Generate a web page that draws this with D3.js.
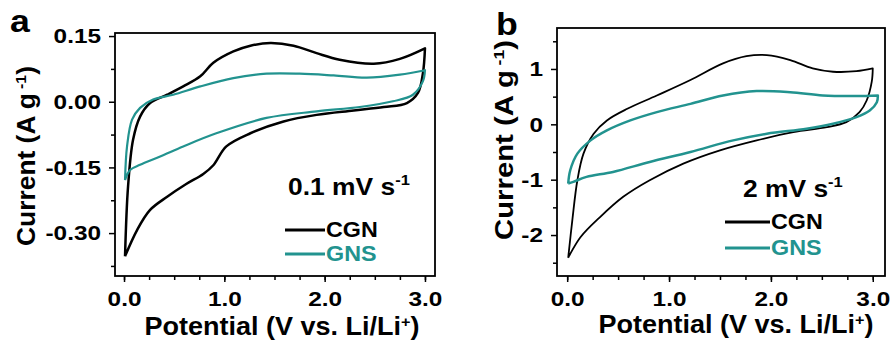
<!DOCTYPE html>
<html>
<head>
<meta charset="utf-8">
<script src="https://cdn.jsdelivr.net/npm/d3@7"></script>
<style>
  body { margin: 0; background: #fff; }
  svg text { font-family: "Liberation Sans", Arial, sans-serif; font-weight: bold; }
</style>
</head>
<body>
<svg id="chart" width="896" height="345"></svg>
<script>
// series: [potential V, current A/g]
// panel a, 0.1 mV/s — anodic branch (up) then cathodic branch (down)
const cgnSlowUp = [[0.01,-0.353],[0.04,-0.194],[0.09,-0.087],[0.16,-0.034],[0.26,-0.003],[0.43,0.016],[0.59,0.035],[0.76,0.058],[0.89,0.089],[1.09,0.115],[1.26,0.128],[1.46,0.134],[1.69,0.128],[1.92,0.111],[2.15,0.096],[2.49,0.087],[2.75,0.098],[3.0,0.122]];
const cgnSlowDown = [[3.0,0.122],[2.98,0.066],[2.93,0.020],[2.82,-0.003],[2.59,-0.012],[2.29,-0.020],[1.92,-0.030],[1.59,-0.045],[1.26,-0.072],[1.02,-0.102],[0.89,-0.145],[0.79,-0.165],[0.62,-0.188],[0.43,-0.217],[0.26,-0.247],[0.13,-0.293],[0.01,-0.353]];
const gnsSlowUp = [[0.01,-0.179],[0.03,-0.102],[0.08,-0.041],[0.16,-0.014],[0.29,0.005],[0.49,0.016],[0.76,0.035],[1.09,0.054],[1.42,0.064],[1.75,0.064],[2.09,0.060],[2.42,0.055],[2.75,0.062],[3.0,0.072]];
const gnsSlowDown = [[3.0,0.072],[2.98,0.047],[2.88,0.016],[2.68,0.001],[2.35,-0.012],[1.92,-0.022],[1.42,-0.037],[0.92,-0.072],[0.59,-0.102],[0.36,-0.125],[0.16,-0.144],[0.06,-0.156],[0.01,-0.179]];

// panel b, 2 mV/s
const cgnFastUp = [[0.01,-2.41],[0.05,-1.74],[0.10,-1.01],[0.16,-0.53],[0.26,-0.17],[0.39,0.07],[0.59,0.28],[0.88,0.52],[1.21,0.80],[1.53,1.10],[1.76,1.23],[1.96,1.25],[2.19,1.16],[2.41,1.01],[2.61,0.95],[2.84,0.96],[3.0,1.01]];
const cgnFastDown = [[3.0,1.01],[2.99,0.77],[2.94,0.43],[2.87,0.22],[2.74,0.04],[2.55,-0.05],[2.22,-0.14],[1.86,-0.29],[1.50,-0.47],[1.14,-0.71],[0.81,-1.01],[0.55,-1.31],[0.32,-1.68],[0.13,-2.04],[0.01,-2.41]];
const gnsFastUp = [[0.01,-1.07],[0.03,-0.83],[0.10,-0.53],[0.23,-0.29],[0.39,-0.11],[0.62,0.07],[0.88,0.22],[1.21,0.37],[1.53,0.52],[1.86,0.60],[2.19,0.58],[2.51,0.52],[2.84,0.51],[3.05,0.52]];
const gnsFastDown = [[3.05,0.52],[3.04,0.40],[2.97,0.25],[2.84,0.13],[2.61,0.01],[2.35,-0.08],[1.96,-0.17],[1.63,-0.29],[1.21,-0.50],[0.81,-0.68],[0.45,-0.86],[0.19,-0.95],[0.06,-1.04],[0.01,-1.07]];

// ticks and labels
const xTicks = [0, 1, 2, 3];
const xMinor = d3.range(0, 3.01, 0.25);
const yTicksA = [-0.30, -0.15, 0, 0.15];
const yMinorA = [-0.375, -0.225, -0.075, 0.075];
const yTicksB = [-2, -1, 0, 1];
const yMinorB = [-2.5, -1.5, -0.5, 0.5, 1.5];
const seriesNames = ["CGN", "GNS"];
const seriesColors = ["#000000", "#22938f"];

const svg = d3.select("#chart");

// the original lettering is a bit wider than Arial, so widen each text
function widen(sel, k) {
  sel.each(function () {
    const len = this.getComputedTextLength();
    d3.select(this).attr("textLength", len * k).attr("lengthAdjust", "spacingAndGlyphs");
  });
}

function drawPanel(p) {
  const x = d3.scaleLinear().domain(p.xDomain).range([p.left, p.right]);
  const y = d3.scaleLinear().domain(p.yDomain).range([p.bottom, p.top]);
  const g = svg.append("g");

  // minor ticks first, then labelled ones
  g.append("g").attr("transform", `translate(0,${p.bottom})`)
    .call(d3.axisBottom(x).tickValues(xMinor).tickSize(4).tickFormat(""));
  g.append("g").attr("transform", `translate(0,${p.bottom})`)
    .call(d3.axisBottom(x).tickValues(xTicks).tickSize(6).tickPadding(9).tickFormat(d => d.toFixed(1)))
    .selectAll("text").style("font-size", "21px").call(widen, 1.16);
  g.append("g").attr("transform", `translate(${p.left},0)`)
    .call(d3.axisLeft(y).tickValues(p.yMinor).tickSize(4).tickFormat(""));
  g.append("g").attr("transform", `translate(${p.left},0)`)
    .call(d3.axisLeft(y).tickValues(p.yTicks).tickSize(6).tickPadding(8).tickFormat(p.yFormat))
    .selectAll("text").style("font-size", "21px").call(widen, 1.16);
  g.selectAll(".domain").remove();
  g.selectAll(".tick line").attr("stroke", "#000").attr("stroke-width", 1.5);

  // frame
  g.append("rect")
    .attr("x", p.left).attr("y", p.top)
    .attr("width", p.right - p.left).attr("height", p.bottom - p.top)
    .attr("fill", "none").attr("stroke", "#000").attr("stroke-width", 1.8);

  const line = d3.line().x(d => x(d[0])).y(d => y(d[1])).curve(d3.curveCatmullRom.alpha(0.5));
  p.series.forEach((s, i) => {
    g.append("path")
      .attr("d", line(s[0]) + "L" + line(s[1]).slice(1))
      .attr("fill", "none")
      .attr("stroke", seriesColors[i])
      .attr("stroke-width", p.widths[i])
      .attr("stroke-linejoin", "round");
  });

  // panel letter
  g.append("text").attr("x", p.letterX).attr("y", p.letterY)
    .style("font-size", "31px").text(p.letter).call(widen, 1.15);

  // axis titles
  const yt = g.append("text")
    .attr("transform", `translate(${p.yTitleX},${p.yTitleY}) rotate(-90)`)
    .attr("text-anchor", "middle").style("font-size", "25px");
  yt.append("tspan").text("Current (A g");
  yt.append("tspan").attr("dx", 4).attr("dy", -9).style("font-size", "15px").text("-1");
  yt.append("tspan").attr("dy", 9).text(")");
  yt.call(widen, p.yTitleK);

  const xt = g.append("text")
    .attr("x", p.xTitleX).attr("y", p.xTitleY)
    .attr("text-anchor", "middle").style("font-size", "25px");
  xt.append("tspan").text("Potential (V vs. Li/Li");
  xt.append("tspan").attr("dy", -8).style("font-size", "15px").text("+");
  xt.append("tspan").attr("dy", 8).text(")");
  xt.call(widen, 1.08);

  // rate label and legend
  const rt = g.append("text").attr("x", p.rateX).attr("y", p.rateY).style("font-size", "24px");
  rt.append("tspan").text(p.rate + " mV s");
  rt.append("tspan").attr("dy", -10).style("font-size", "15px").text("-1");
  rt.call(widen, 1.1);

  seriesNames.forEach((name, i) => {
    const ly = p.legY + i * p.legGap;
    g.append("line")
      .attr("x1", p.legX).attr("x2", p.legX + p.legLen)
      .attr("y1", ly).attr("y2", ly)
      .attr("stroke", seriesColors[i]).attr("stroke-width", 3);
    g.append("text")
      .attr("x", p.legX + p.legLen + 1).attr("y", ly + 7)
      .attr("fill", seriesColors[i]).style("font-size", "22px").text(name)
      .call(widen, 1.06);
  });
}

drawPanel({
  letter: "a", letterX: 10, letterY: 32,
  left: 115, right: 435, top: 33, bottom: 276,
  xDomain: [-0.09, 3.1], yDomain: [-0.398, 0.157],
  yTicks: yTicksA, yMinor: yMinorA, yFormat: d => d.toFixed(2),
  series: [[cgnSlowUp, cgnSlowDown], [gnsSlowUp, gnsSlowDown]],
  widths: [2.5, 2.2],
  yTitleX: 35, yTitleY: 156, yTitleK: 1.08, xTitleX: 282, xTitleY: 335,
  rate: "0.1", rateX: 288, rateY: 195,
  legX: 285, legLen: 40, legY: 230, legGap: 24
});

drawPanel({
  letter: "b", letterX: 496, letterY: 35,
  left: 557, right: 885, top: 28, bottom: 276,
  xDomain: [-0.1, 3.12], yDomain: [-2.74, 1.74],
  yTicks: yTicksB, yMinor: yMinorB, yFormat: d => String(d),
  series: [[cgnFastUp, cgnFastDown], [gnsFastUp, gnsFastDown]],
  widths: [1.8, 2.5],
  yTitleX: 513, yTitleY: 140, yTitleK: 1.2, xTitleX: 736, xTitleY: 333,
  rate: "2", rateX: 743, rateY: 197,
  legX: 725, legLen: 45, legY: 222, legGap: 26
});
</script>
</body>
</html>
